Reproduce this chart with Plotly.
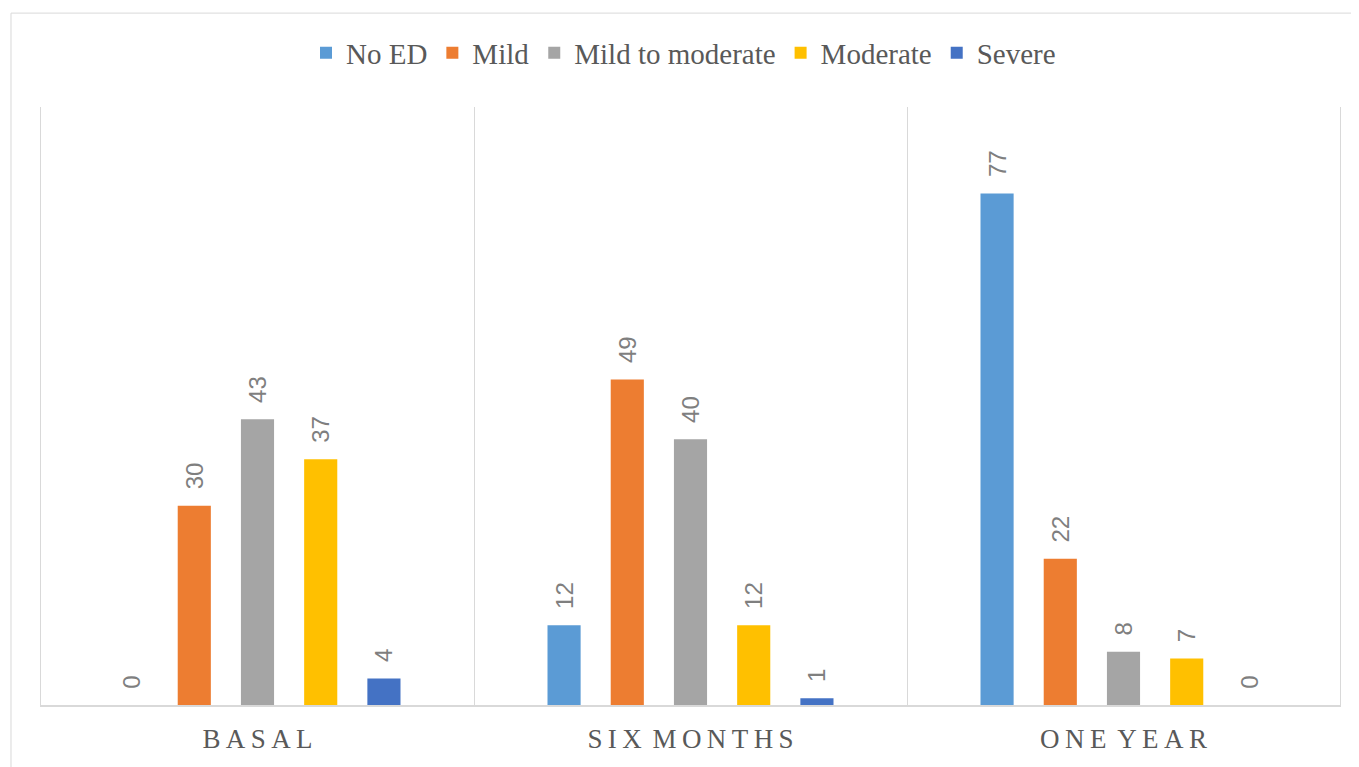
import plotly.graph_objects as go

categories = ["BASAL", "SIX MONTHS", "ONE YEAR"]
series_names = ["No ED", "Mild", "Mild to moderate", "Moderate", "Severe"]
no_ed = [0, 12, 77]
mild = [30, 49, 22]
mild_to_moderate = [43, 40, 8]
moderate = [37, 12, 7]
severe = [4, 1, 0]
colors = ["#5B9BD5", "#ED7D31", "#A5A5A5", "#FFC000", "#4472C4"]

values = [no_ed, mild, mild_to_moderate, moderate, severe]

fig = go.Figure()
for name, vals, col in zip(series_names, values, colors):
    fig.add_trace(go.Bar(
        x=categories, y=vals, name=name, marker=dict(color=col, line=dict(width=0)),
        text=vals, texttemplate="\u00a0\u00a0%{y}", textposition="outside",
        textangle=-90, cliponaxis=False, constraintext="none",
        textfont=dict(family="Liberation Sans", size=24, color="#7F7F7F"),
    ))

tick_text = ["\u2009".join(list(c)).replace("\u2009 \u2009", "\u2009\u2009") for c in categories]

W, H = 1351, 759
fig.update_layout(
    width=W, height=H,
    margin=dict(l=33, r=19, t=99, b=62, autoexpand=False),
    paper_bgcolor="white", plot_bgcolor="white",
    barmode="group", bargap=0.27, bargroupgap=0.476,
    uniformtext=dict(mode=False),
    legend=dict(orientation="h", x=0.5, xanchor="center", xref="container",
                y=1 - 45 / H, yanchor="middle", yref="container",
                font=dict(family="Liberation Serif", size=29, color="#595959"),
                itemwidth=30, tracegroupgap=0, bgcolor="rgba(0,0,0,0)"),
    xaxis=dict(type="category", range=[-0.5, 2.5], tickson="boundaries", showgrid=True,
               gridcolor="#D9D9D9", gridwidth=1, showline=True, linecolor="#D9D9D9", linewidth=2,
               ticks="", tickmode="array", tickvals=categories, ticktext=tick_text,
               tickfont=dict(family="Liberation Serif", size=27, color="#595959"),
               ticklabelstandoff=9, automargin=False),
    yaxis=dict(range=[0, 90], showgrid=False, zeroline=False, showticklabels=False,
               showline=True, mirror=True, linecolor="#D9D9D9", linewidth=1, automargin=False),
    showlegend=True,
)
fig.add_shape(type="rect", xref="paper", yref="paper", x0=-0.0231, x1=1.05, y0=-0.2, y1=1.157,
              line=dict(color="#D9D9D9", width=1), fillcolor="rgba(0,0,0,0)", layer="below")

fig.write_html("out.html")
